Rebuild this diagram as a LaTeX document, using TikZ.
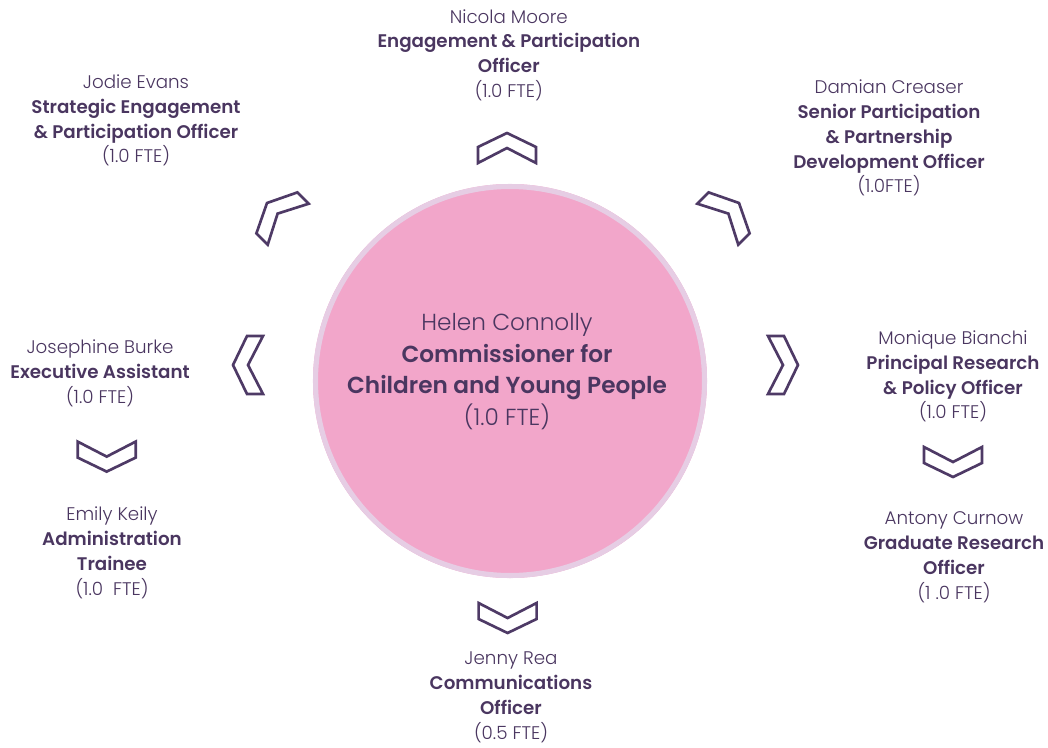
\documentclass[tikz,border=0pt]{standalone}
\usepackage{fontspec}
\setmainfont{Poppins}[UprightFont=* Light, BoldFont=* SemiBold]
\usepackage{tikz}

\definecolor{ink}{HTML}{4A3660}
\definecolor{chevink}{HTML}{4E3A66}
\definecolor{rosefill}{HTML}{F2A6CA}
\definecolor{ringlilac}{HTML}{E6CDE4}

\tikzset{
  pics/chevron/.style={code={
    \draw[chevline] (0,0) -- (-0.35,0.725) -- (-0.75,0.725) -- (-0.375,0) -- (-0.75,-0.725) -- (-0.35,-0.725) -- cycle;
  }}
}

\begin{document}
\begin{tikzpicture}[
  person/.style = {align=center, inner sep=0pt, text=ink, font=\fontsize{13}{17.7}\selectfont},
  boss/.style = {align=center, inner sep=0pt, text=ink, font=\fontsize{16.5}{22.7}\selectfont},
  chevline/.style = {draw=chevink, line width=1.9pt, line join=miter}
]
\useasboundingbox (0,0) rectangle (26.2,-18.7);

\fill[rosefill] (12.75,-9.525) circle (4.925);
\draw[ringlilac, line width=3.6pt] (12.75,-9.525) circle (4.8625);

\node[boss] (hc) at (12.675,-9.29) {Helen Connolly\\\textbf{Commissioner for}\\\textbf{Children and Young People}\\(1.0 FTE)};

\node[person] (nm) at (12.72,-1.38) {Nicola Moore\\\textbf{Engagement \& Participation}\\\textbf{Officer}\\(1.0 FTE)};
\node[person] (je) at (3.4,-3.01) {Jodie Evans\\\textbf{Strategic Engagement}\\\textbf{\& Participation Officer}\\(1.0 FTE)};
\node[person] (dc) at (22.225,-3.45) {Damian Creaser\\\textbf{Senior Participation}\\\textbf{\& Partnership}\\\textbf{Development Officer}\\(1.0FTE)};
\node[person] (jb) at (2.5,-9.34) {Josephine Burke\\\textbf{Executive Assistant}\\(1.0 FTE)};
\node[person] (ek) at (2.8,-13.825) {Emily Keily\\\textbf{Administration}\\\textbf{Trainee}\\(1.0~~FTE)};
\node[person] (mb) at (23.825,-9.41) {Monique Bianchi\\\textbf{Principal Research}\\\textbf{\& Policy Officer}\\(1.0 FTE)};
\node[person] (ac) at (23.85,-13.925) {Antony Curnow\\\textbf{Graduate Research}\\\textbf{Officer}\\(1 .0 FTE)};
\node[person] (jr) at (12.775,-17.425) {Jenny Rea\\\textbf{Communications}\\\textbf{Officer}\\(0.5 FTE)};

\pic[rotate=90] at (12.675,-3.325) {chevron};
\pic[rotate=135] at (6.675,-5.075) {chevron};
\pic[rotate=45] at (18.475,-5.075) {chevron};
\pic[rotate=180] at (5.825,-9.125) {chevron};
\pic[rotate=0] at (19.95,-9.125) {chevron};
\pic[rotate=270] at (2.667,-11.79) {chevron};
\pic[rotate=270] at (23.825,-11.925) {chevron};
\pic[rotate=270] at (12.69,-15.825) {chevron};
\end{tikzpicture}
\end{document}
